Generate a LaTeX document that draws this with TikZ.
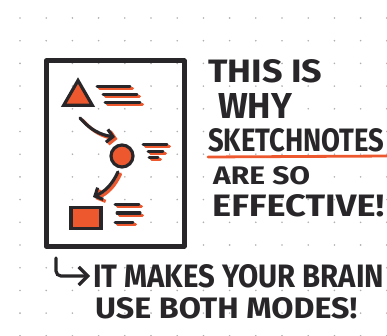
\documentclass[tikz,border=0pt]{standalone}
\usepackage{fontspec}
\setmainfont{Fira Sans}
\usepackage{graphicx}
\usetikzlibrary{arrows.meta,shapes.geometric}

\definecolor{ink}{RGB}{40,38,40}
\definecolor{marker}{RGB}{238,88,46}
\definecolor{paperdot}{RGB}{175,175,178}

% hand lettering: a bold line squeezed to a given width and cap height
\newcommand{\scrawl}[3]{\resizebox{#1pt}{#2pt}{\bfseries #3}}

\begin{document}
\begin{tikzpicture}[
    x=1pt, y=-1pt,
    pen/.style={draw=ink, line width=5pt, line join=round},
    icon/.style={draw=ink, line width=3.2pt, fill=marker, inner sep=0pt},
    stroke/.style={ink, line width=3pt, line cap=round},
    shade/.style={marker, line width=3pt, line cap=round, transform canvas={shift={(2.5,2)}}},
    flow/.style={line width=3.2pt, line cap=round, -{Straight Barb[length=6pt,width=13pt]}},
    word/.style={anchor=base west, inner sep=0pt, text=ink}
  ]
  \useasboundingbox (0,0) rectangle (387,336);
  \clip (0,0) rectangle (387,336);
  % dot grid of the page
  \foreach \i in {0,...,14}
    \foreach \j in {0,...,14}
      \fill[paperdot] ({20+26.2*\i},{18+22.7*\j}) circle (0.9);

  % the frame
  \draw[pen] (46,61) rectangle (184,246);

  % the three pictograms
  \node[icon, regular polygon, regular polygon sides=3, minimum size=33] (tri) at (78,97) {};
  \node[icon, circle, minimum size=22] (dot) at (122,156) {};
  \node[icon, rectangle, minimum width=30, minimum height=21] (box) at (86,218) {};

  % scribbled lines beside them
  \foreach \a/\b/\y in {97/130/87, 103/137/95, 105/140/103,
                        143/167/145, 148/163/152, 149/158/158,
                        115/139/205, 117/140/213, 115/133/222} {
    \draw[shade] (\a,\y) -- (\b,\y);
    \draw[stroke] (\a,\y) -- (\b,\y);
  }

  % arrows from one pictogram to the next
  \coordinate (t1) at (80,118);
  \coordinate (h1) at (115,137);
  \coordinate (t2) at (118,172);
  \coordinate (h2) at (93,197);
  \draw[shade, flow] (t1) to[bend right=20] (h1);
  \draw[flow, draw=ink] (t1) to[bend right=20] (h1);
  \draw[shade, flow] (t2) to[bend left=20] (h2);
  \draw[flow, draw=ink] (t2) to[bend left=20] (h2);

  % the lettering
  \node[word] (l1) at (208,83) {\scrawl{114}{23}{THIS IS}};
  \node[word] (l2) at (218,119) {\scrawl{74}{25}{WHY}};
  \node[word] (l3) at (208,152) {\scrawl{176}{23}{SKETCHNOTES}};
  \node[word] (l4) at (213,185) {\scrawl{97}{18}{ARE SO}};
  \node[word] (l5) at (212,216) {\scrawl{172}{22}{EFFECTIVE!}};
  \draw[marker, line width=2.8pt, line cap=round]
    ([yshift=-5pt]l3.base west) -- ([xshift=6pt,yshift=-4pt]l3.base east);

  \node[word] (l6) at (93,287) {\scrawl{291}{23}{IT MAKES YOUR BRAIN}};
  \node[word] (l7) at (95,318) {\scrawl{262}{21}{USE BOTH MODES!}};
  \coordinate (hk) at (56,258);
  \draw[flow, draw=ink, rounded corners=5pt, -{Straight Barb[length=9pt,width=18pt]}]
    (hk) |- ([xshift=-3pt,yshift=11pt]l6.base west);
\end{tikzpicture}
\end{document}
